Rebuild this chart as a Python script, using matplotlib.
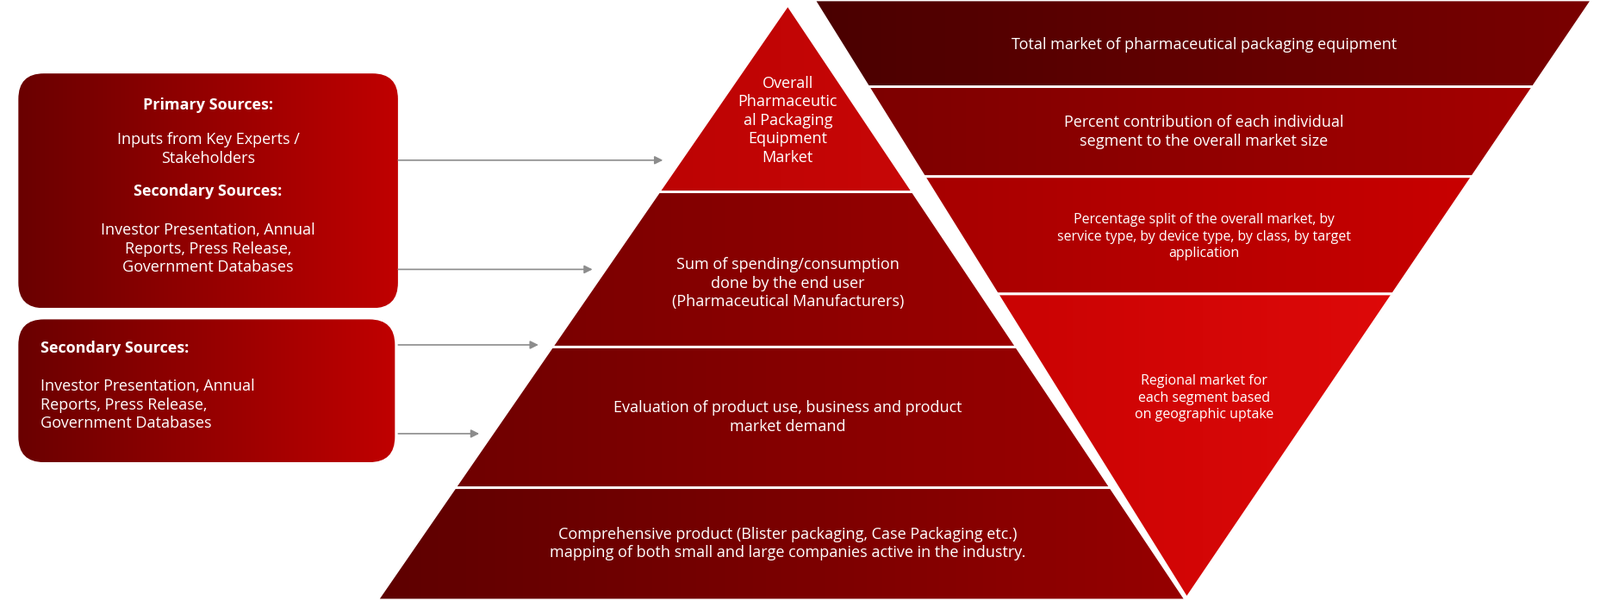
import matplotlib
matplotlib.use("Agg")
import matplotlib.pyplot as plt
import numpy as np
from matplotlib.patches import Polygon, FancyBboxPatch
from matplotlib.colors import LinearSegmentedColormap

pyramid_texts = ["Overall\nPharmaceutic\nal Packaging\nEquipment\nMarket",
                 "Sum of spending/consumption\ndone by the end user\n(Pharmaceutical Manufacturers)",
                 "Evaluation of product use, business and product\nmarket demand",
                 "Comprehensive product (Blister packaging, Case Packaging etc.)\nmapping of both small and large companies active in the industry."]
pyramid_bounds = [5, 188, 340, 478, 588]
pyramid_colors = [("#b00000", "#d40a0a"), ("#6e0000", "#a80000"), ("#6a0000", "#a00000"), ("#5e0000", "#960000")]
pyramid_text_y = [118, 278, 409, 533]

inv_texts = ["Total market of pharmaceutical packaging equipment",
             "Percent contribution of each individual\nsegment to the overall market size",
             "Percentage split of the overall market, by\nservice type, by device type, by class, by target\napplication",
             "Regional market for\neach segment based\non geographic uptake"]
inv_bounds = [0, 85, 173, 288, 586]
inv_colors = [("#4a0000", "#7a0000"), ("#7a0000", "#a80000"), ("#a00000", "#d00000"), ("#c00000", "#e80c0c")]
inv_text_y = [44, 129, 232, 390]
inv_sizes = [13, 13, 11.5, 11.5]

fig = plt.figure(figsize=(18.57, 6.97), dpi=100)
ax = fig.add_axes([0, 0, 1, 1])
ax.set_xlim(0, 1568)
ax.set_ylim(589, 0)
ax.axis("off")
FONT = "Open Sans"

def grad_fill(patch, c1, c2, extent):
    ax.add_patch(patch)
    cmap = LinearSegmentedColormap.from_list("g", [c1, c2])
    g = np.linspace(0, 1, 256).reshape(1, -1)
    im = ax.imshow(g, cmap=cmap, extent=extent, aspect="auto", zorder=1)
    im.set_clip_path(patch)

# pyramid
ax_, ay = 772, 5
bl, br, by = 370, 1162, 588
def px(y, side):
    t = (y - ay) / (by - ay)
    return ax_ + t * ((bl if side == 0 else br) - ax_)
for i in range(4):
    y0, y1 = pyramid_bounds[i], pyramid_bounds[i + 1]
    pts = [(px(y0, 0), y0), (px(y0, 1), y0), (px(y1, 1), y1), (px(y1, 0), y1)]
    p = Polygon(pts, closed=True, fc="none", ec="white", lw=2, zorder=2)
    grad_fill(Polygon(pts, closed=True, fc="none", ec="none"), *pyramid_colors[i], (370, 1162, y1, y0))
    ax.add_patch(p)
    ax.text(772, pyramid_text_y[i], pyramid_texts[i], ha="center", va="center", color="white",
            fontsize=13, family=FONT, linespacing=1.25, zorder=3)

# inverted triangle
tl, tr, ty, tipx, tipy = 798, 1560, 0, 1163, 586
def ix(y, side):
    t = (y - ty) / (tipy - ty)
    return (tl if side == 0 else tr) + t * (tipx - (tl if side == 0 else tr))
for i in range(4):
    y0, y1 = inv_bounds[i], inv_bounds[i + 1]
    pts = [(ix(y0, 0), y0), (ix(y0, 1), y0), (ix(y1, 1), y1), (ix(y1, 0), y1)]
    p = Polygon(pts, closed=True, fc="none", ec="white", lw=2, zorder=2)
    grad_fill(Polygon(pts, closed=True, fc="none", ec="none"), *inv_colors[i], (798, 1560, y1, y0))
    ax.add_patch(p)
    ax.text(1180, inv_text_y[i], inv_texts[i], ha="center", va="center", color="white",
            fontsize=inv_sizes[i], family=FONT, linespacing=1.3, zorder=3)

# source boxes
boxes = [(18, 72, 372, 230), (18, 313, 369, 140)]
for (x, y, w, h) in boxes:
    b = FancyBboxPatch((x, y), w, h, boxstyle="round,pad=0,rounding_size=25", fc="none", ec="none")
    grad_fill(b, "#6a0000", "#c00000", (x, x + w, y + h, y))

ax.text(204, 103, "Primary Sources:", ha="center", va="center", color="white", fontsize=13, family=FONT, weight="bold", zorder=3)
ax.text(204, 146, "Inputs from Key Experts /\nStakeholders", ha="center", va="center", color="white", fontsize=13, family=FONT, linespacing=1.25, zorder=3)
ax.text(204, 188, "Secondary Sources:", ha="center", va="center", color="white", fontsize=13, family=FONT, weight="bold", zorder=3)
ax.text(204, 244, "Investor Presentation, Annual\nReports, Press Release,\nGovernment Databases", ha="center", va="center", color="white", fontsize=13, family=FONT, linespacing=1.25, zorder=3)
ax.text(40, 341, "Secondary Sources:", ha="left", va="center", color="white", fontsize=13, family=FONT, weight="bold", zorder=3)
ax.text(40, 397, "Investor Presentation, Annual\nReports, Press Release,\nGovernment Databases", ha="left", va="center", color="white", fontsize=13, family=FONT, linespacing=1.25, zorder=3)

arrows = [(388, 157, 652), (388, 264, 583), (388, 338, 530), (388, 425, 472)]
for x0, y, x1 in arrows:
    ax.annotate("", xy=(x1, y), xytext=(x0, y),
                arrowprops=dict(arrowstyle="-|>", color="#8c8c8c", lw=1.2, mutation_scale=14), zorder=4)

fig.savefig("out.png", dpi=100)
